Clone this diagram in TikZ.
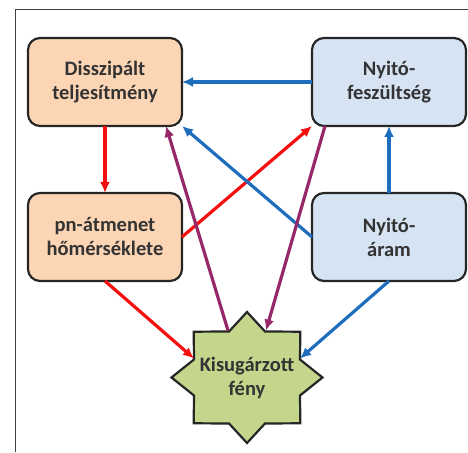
\documentclass[tikz,border=0pt]{standalone}
\usepackage{fontspec}
\setmainfont{Carlito}
\usetikzlibrary{shapes,arrows,arrows.meta,calc,positioning,backgrounds}

\definecolor{boxorange}{RGB}{252,213,180}
\definecolor{boxblue}{RGB}{214,227,243}
\definecolor{stargreen}{RGB}{196,214,140}
\definecolor{linered}{RGB}{245,15,15}
\definecolor{lineblue}{RGB}{31,110,190}
\definecolor{linepurple}{RGB}{150,40,105}

\begin{document}
\begin{tikzpicture}[x=1pt,y=1pt,
  every node/.style={font=\bfseries\fontsize{20.5}{24}\selectfont,text=black!80,align=center},
  block/.style={draw=black!85,line width=2.2pt,rectangle,rounded corners=12pt,
    minimum width=154pt,minimum height=88pt,outer sep=0pt},
  hot/.style={block,fill=boxorange},
  cold/.style={block,fill=boxblue},
  link/.style={-{Latex[length=11pt,width=10pt]},line width=3.2pt}]

        \useasboundingbox (0,0) rectangle (468,452);
        \draw[black!75,line width=0.9pt] (15,0) -- (15,443) -- (468,443);

        \node[hot] (diss) at (105,370) {Disszipált\\teljesítmény};
        \node[cold] (fesz) [right = 130pt of diss] {Nyitó-\\feszültség};
        \node[hot] (pn) [below = 67pt of diss] {pn-átmenet\\hőmérséklete};
        \node[cold] (aram) [below = 67pt of fesz] {Nyitó-\\áram};

        % eight-pointed star
        \coordinate (fenyc) at (247,74.5);
        \draw[shift={(fenyc)},draw=black!85,line width=2.2pt,line join=miter,fill=stargreen]
          (0,65.5) -- (18,46) -- (53.3,45.8) -- (53,18) -- (75.5,0) -- (53,-18)
          -- (53.3,-45.8) -- (18,-46) -- (0,-65.5) -- (-18,-46) -- (-53.3,-45.8)
          -- (-53,-18) -- (-75.5,0) -- (-53,18) -- (-53.3,45.8) -- (-18,46) -- cycle;
        \node (feny) at (fenyc) {Kisugárzott\\fény};
        \coordinate (fenynw) at ($(fenyc)+(-53,19)$);
        \coordinate (fenyne) at ($(fenyc)+(53,19)$);
        \coordinate (fenynnw) at ($(fenyc)+(-19,47)$);
        \coordinate (fenynne) at ($(fenyc)+(19,47)$);

        \draw[link,lineblue] (fesz.west) -- (diss.east);
        \draw[link,linered] (diss) -- (pn);
        \draw[link,linered] (pn.east) -- (fesz.south west);
        \draw[link,lineblue] (aram.west) -- (diss.south east);
        \draw[link,lineblue] (aram) -- (fesz);
        \draw[link,linered] (pn.south) -- (fenynw);
        \draw[link,lineblue] (aram.south) -- (fenyne);
        \draw[link,linepurple] (fenynnw) -- ([xshift=61pt]diss.south);
        \draw[link,linepurple] ([xshift=13pt]fesz.south west) -- (fenynne);
      \end{tikzpicture}
\end{document}
